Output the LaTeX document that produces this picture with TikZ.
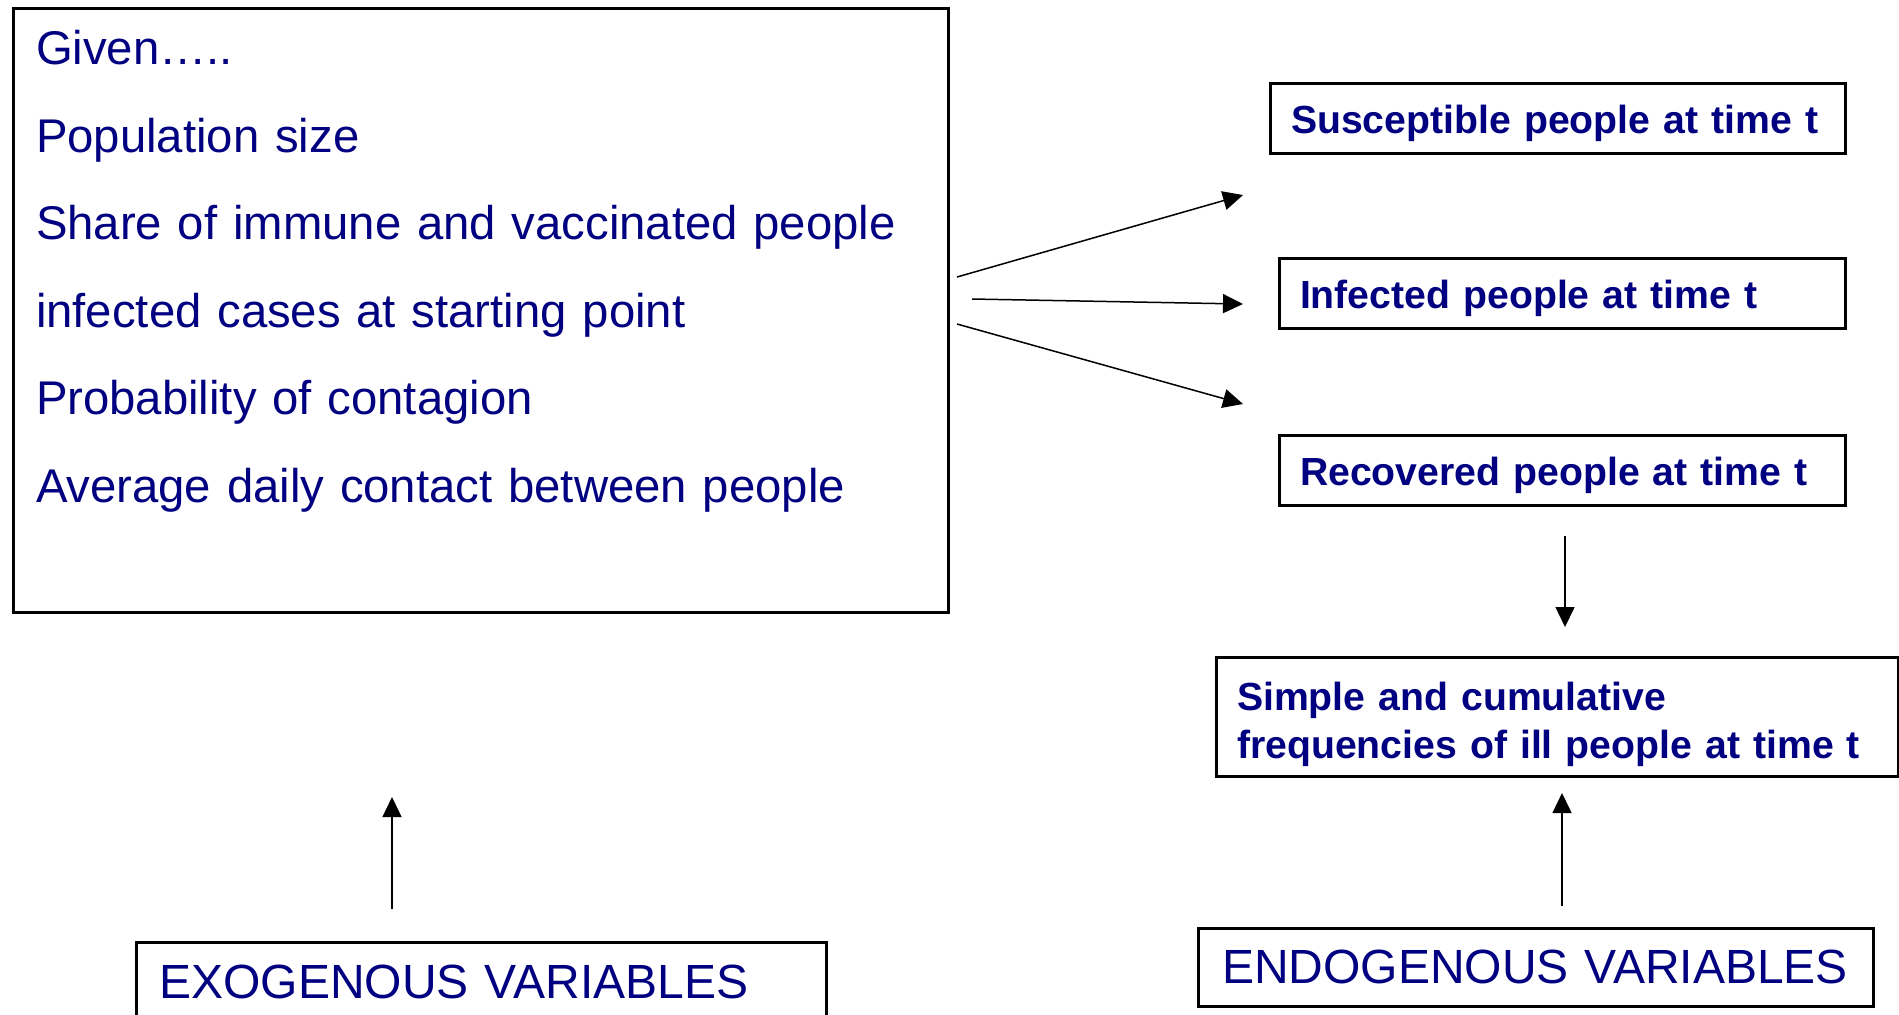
\documentclass[tikz,border=0pt]{standalone}
\usepackage{fontspec}
\setmainfont{Liberation Sans}
\usepackage{xcolor}
\usetikzlibrary{arrows.meta, positioning, calc}
\definecolor{navy}{RGB}{0,0,128}

\begin{document}
\begin{tikzpicture}[x=0.5pt, y=-0.5pt,
  box/.style={draw, line width=1.5pt, text=navy, align=left, inner xsep=11.5pt},
  result/.style={box, font=\fontsize{19.6}{24}\selectfont\bfseries, inner xsep=10.5pt},
  oneline/.style={minimum height=35pt, text height=19pt, text depth=4pt},
  flow/.style={line width=0.75pt, -{Triangle[length=10pt, width=9.5pt]}}]
\useasboundingbox (0,0) rectangle (1899,1014);

% Given inputs
\node[box, font=\fontsize{23.65}{43.75}\selectfont, text width=444.5pt, minimum height=302pt] (given) at (480.5,310)
  {Given…..\\Population size\\Share of immune and vaccinated people\\infected cases at starting point\\Probability of contagion\\Average daily contact between people\\ ~};

% Model results
\node[result, oneline, xshift=1pt, text width=266.75pt] (susceptible) at (1555.75,118.3) {\mbox{Susceptible people at time t}};
\node[result, oneline, xshift=1pt, text width=262.25pt] (infected) at (1560.25,293.8) {\mbox{Infected people at time t}};
\node[result, oneline, xshift=1pt, text width=262.25pt] (recovered) at (1560.25,470.5) {\mbox{Recovered people at time t}};
\node[result, text width=320pt, minimum height=59.5pt, text height=21.6pt] (simple) at (1557,716.5)
  {Simple and cumulative\\frequencies of ill people at time t};

% Variable labels
\node[box, font=\fontsize{24}{28}\selectfont, text width=322pt, anchor=north west, inner ysep=10.5pt, text height=17.5pt, text depth=30pt] (exogenous) at (135,941) {EXOGENOUS VARIABLES};
\node[box, font=\fontsize{24}{28}\selectfont, text width=313.5pt, inner xsep=12pt, minimum height=39pt] (endogenous) at (1535.5,967) {ENDOGENOUS VARIABLES};

% Arrow ends
\coordinate (s1) at (957,277);
\coordinate (t1) at (1243,195);
\coordinate (s2) at (972,299);
\coordinate (t2) at (1243,304);
\coordinate (s3) at (957,324);
\coordinate (t3) at (1243,404);
\coordinate (r1) at (1565,536);
\coordinate (r2) at (1565,627);
\coordinate (e1) at (1562,906);
\coordinate (e2) at (1562,793);
\coordinate (x1) at (392,909);
\coordinate (x2) at (392,797);

\draw[flow] (s1) -- (t1);
\draw[flow] (s2) -- (t2);
\draw[flow] (s3) -- (t3);
\draw[flow] (r1) -- (r2);
\draw[flow] (e1) -- (e2);
\draw[flow] (x1) -- (x2);
\end{tikzpicture}
\end{document}
